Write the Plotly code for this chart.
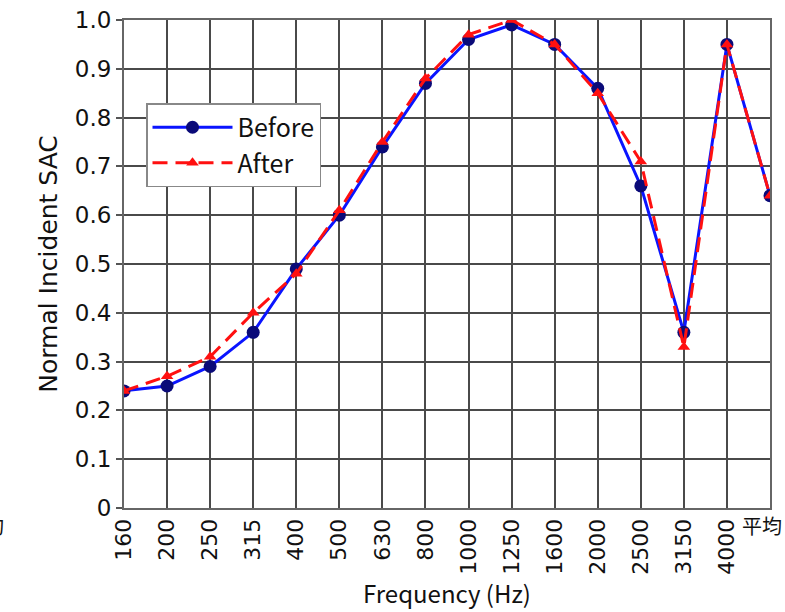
import plotly.graph_objects as go

categories = ["160", "200", "250", "315", "400", "500", "630", "800", "1000",
              "1250", "1600", "2000", "2500", "3150", "4000", "平均"]
before = [0.24, 0.25, 0.29, 0.36, 0.49, 0.60, 0.74, 0.87, 0.96, 0.99, 0.95,
          0.86, 0.66, 0.36, 0.95, 0.64]
after = [0.24, 0.27, 0.31, 0.40, 0.48, 0.61, 0.75, 0.88, 0.97, 1.00, 0.95,
         0.85, 0.71, 0.33, 0.95, 0.64]
y_ticks = [0, 0.1, 0.2, 0.3, 0.4, 0.5, 0.6, 0.7, 0.8, 0.9, 1.0]
y_tick_text = ["0", "0.1", "0.2", "0.3", "0.4", "0.5", "0.6", "0.7", "0.8", "0.9", "1.0"]

jp_font = "Noto Sans CJK JP, Noto Sans, sans-serif"
wide_font = "DejaVu Sans, sans-serif"

fig = go.Figure()
fig.add_trace(go.Scatter(
    x=categories, y=before, name="Before", mode="lines+markers", legendgroup="b",
    line=dict(color="#0a14ff", width=3),
    marker=dict(symbol="circle", size=13, color="#0a0a78"),
))
fig.add_trace(go.Scatter(
    x=categories, y=after, name="After", mode="lines+markers", legendgroup="a",
    line=dict(color="#ff1010", width=3, dash="15px,8px"),
    marker=dict(symbol="triangle-up", size=11, color="#ff1010"),
))

fig.update_layout(
    width=785, height=612,
    margin=dict(l=124, r=15, t=20, b=104, autoexpand=False),
    paper_bgcolor="white", plot_bgcolor="white",
    showlegend=True,
    legend=dict(
        x=(146 - 124) / 646, y=(508 - 103) / 488, xanchor="left", yanchor="top",
        bgcolor="white", bordercolor="#888888", borderwidth=1.5,
        font=dict(family=jp_font, size=25, color="#111111"),
        itemwidth=80, tracegroupgap=0,
    ),
    xaxis=dict(
        type="category", categoryorder="array", categoryarray=categories,
        range=[0, 15], tickmode="array", tickvals=categories,
        ticktext=categories[:-1] + [""],
        tickangle=-90, tickfont=dict(family=wide_font, size=22, color="#111111"),
        showgrid=True, gridcolor="#4a4a4a", gridwidth=1.6,
        showline=True, linecolor="#666666", linewidth=2, mirror=True,
        ticks="", zeroline=False,
        title=dict(text="Frequency (Hz)", font=dict(family=jp_font, size=24, color="#111111"),
                   standoff=2),
    ),
    yaxis=dict(
        range=[0, 1.0], tickmode="array", tickvals=y_ticks, ticktext=y_tick_text,
        tickfont=dict(family=wide_font, size=23, color="#111111"),
        showgrid=True, gridcolor="#4a4a4a", gridwidth=1.6,
        showline=True, linecolor="#666666", linewidth=2, mirror=True,
        ticks="outside", ticklen=6, tickcolor="#555555", tickwidth=1.5,
        zeroline=False,
        title=dict(text="Normal Incident SAC", font=dict(family=wide_font, size=25, color="#111111"),
                   standoff=10),
    ),
)

fig.add_annotation(
    x=(784 - 124) / 646, y=-0.002, xref="paper", yref="paper", text=categories[-1],
    showarrow=False, xanchor="right", yanchor="top",
    font=dict(family=jp_font, size=20, color="#111111"),
)
fig.add_annotation(
    x=(6 - 124) / 646, y=-0.002, xref="paper", yref="paper", text=categories[-1],
    showarrow=False, xanchor="right", yanchor="top",
    font=dict(family=jp_font, size=20, color="#111111"),
)

fig.write_html(
    "out.html",
    config={"displayModeBar": False},
    post_script="document.body.style.margin='0';document.body.style.overflow='hidden';",
)
